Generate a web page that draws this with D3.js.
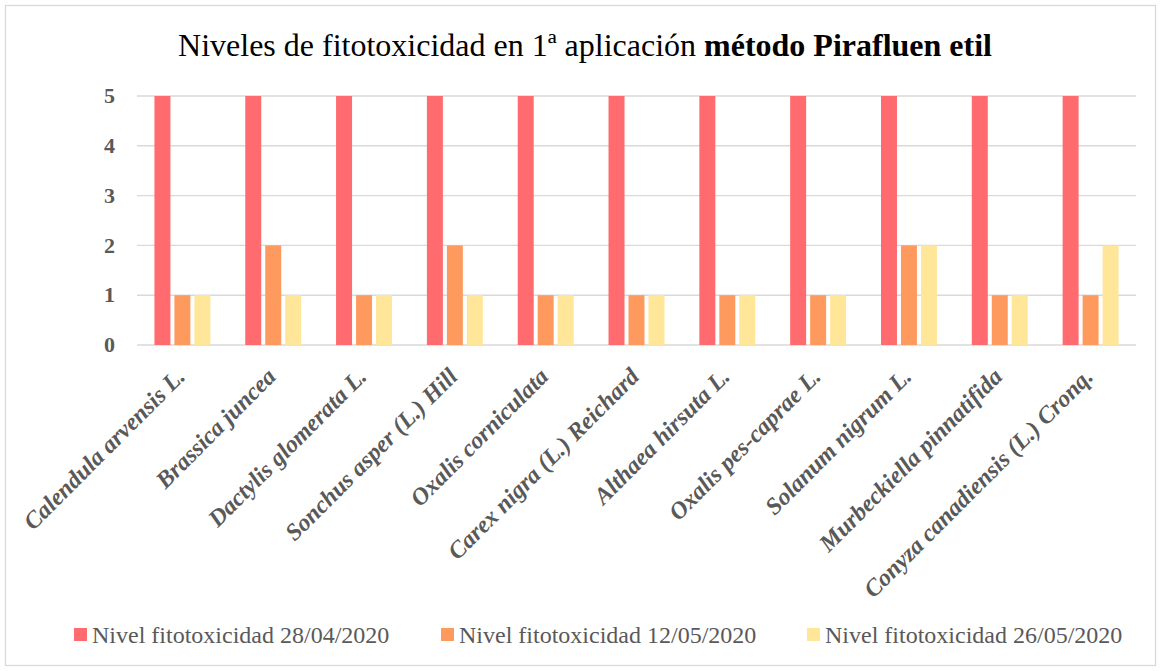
<!DOCTYPE html>
<html>
<head>
<meta charset="utf-8">
<script src="https://cdn.jsdelivr.net/npm/d3@7"></script>
<style>
  body { margin: 0; background: #fff; }
  svg text { font-family: "Liberation Serif", "Times New Roman", Times, serif; }
  .tick-y { font-weight: bold; font-size: 22px; fill: #595959; }
  .tick-x { font-weight: bold; font-style: italic; font-size: 24px; fill: #595959; }
  .legend-text { font-size: 24px; fill: #595959; }
  .title { font-size: 32px; fill: #000; }
</style>
</head>
<body>
<div id="chart"></div>
<script>
// data
const species = [
  'Calendula arvensis L.', 'Brassica juncea', 'Dactylis glomerata L.', 'Sonchus asper (L.) Hill',
  'Oxalis corniculata', 'Carex nigra (L.) Reichard', 'Althaea hirsuta L.', 'Oxalis pes-caprae L.',
  'Solanum nigrum L.', 'Murbeckiella pinnatifida', 'Conyza canadiensis (L.) Cronq.'
];
const seriesNames = ['Nivel fitotoxicidad 28/04/2020', 'Nivel fitotoxicidad 12/05/2020', 'Nivel fitotoxicidad 26/05/2020'];
const nivel_28_04 = [5, 5, 5, 5, 5, 5, 5, 5, 5, 5, 5];
const nivel_12_05 = [1, 2, 1, 2, 1, 1, 1, 1, 2, 1, 1];
const nivel_26_05 = [1, 1, 1, 1, 1, 1, 1, 1, 2, 1, 2];
const yTicks = [0, 1, 2, 3, 4, 5];
const colors = ['#ff6b6f', '#ff9a5f', '#ffe699'];

const allSeries = [nivel_28_04, nivel_12_05, nivel_26_05];

// chart static params
const W = 1161, H = 671;
const margin = {top: 96, right: 25, bottom: 326, left: 137};
const plotW = 1136 - margin.left, plotH = 345 - margin.top;

const svg = d3.select('#chart').append('svg')
    .attr('width', W)
    .attr('height', H);

// outer frame
svg.append('rect')
    .attr('x', 5.5).attr('y', 5.5)
    .attr('width', W - 11).attr('height', H - 11)
    .attr('fill', '#fff')
    .attr('stroke', '#d9d9d9')
    .attr('stroke-width', 1.3);

// title
const title = svg.append('text')
    .attr('class', 'title')
    .attr('x', 585)
    .attr('y', 56)
    .attr('text-anchor', 'middle');
title.append('tspan').text('Niveles de fitotoxicidad en 1ª aplicación ');
title.append('tspan').attr('font-weight', 'bold').text('método Pirafluen etil');

const g = svg.append('g')
    .attr('transform', `translate(${margin.left},${margin.top})`);

// scales
const x = d3.scaleBand()
    .domain(species)
    .range([0, plotW])
    .paddingInner(0.384)
    .paddingOuter(0.192);

const xInner = d3.scaleBand()
    .domain(d3.range(allSeries.length))
    .range([0, x.bandwidth()])
    .paddingInner(0.2);

const y = d3.scaleLinear()
    .domain([0, 5])
    .range([plotH, 0]);

// grid
g.append('g')
  .selectAll('line')
  .data(yTicks)
  .join('line')
    .attr('x1', 0).attr('x2', plotW)
    .attr('y1', d => y(d)).attr('y2', d => y(d))
    .attr('stroke', '#d9d9d9')
    .attr('stroke-width', 1.4);

// y axis labels
g.append('g')
  .selectAll('text')
  .data(yTicks)
  .join('text')
    .attr('class', 'tick-y')
    .attr('x', -22)
    .attr('y', d => y(d))
    .attr('dy', '0.33em')
    .attr('text-anchor', 'end')
    .text(d => d);

// bars
allSeries.forEach((vals, si) => {
  g.append('g')
    .selectAll('rect')
    .data(vals)
    .join('rect')
      .attr('x', (d, i) => x(species[i]) + xInner(si))
      .attr('y', d => y(d))
      .attr('width', xInner.bandwidth())
      .attr('height', d => plotH - y(d))
      .attr('fill', colors[si]);
});

// x axis labels, rotated
g.append('g')
  .selectAll('text')
  .data(species)
  .join('text')
    .attr('class', 'tick-x')
    .attr('text-anchor', 'end')
    .attr('transform', d => `translate(${x(d) + x.bandwidth() / 2 + 4},${plotH + 33}) rotate(-45)`)
    .text(d => d);

// legend
const legendX = [74, 441, 807];
const legend = svg.append('g')
  .selectAll('g')
  .data(seriesNames)
  .join('g')
    .attr('transform', (d, i) => `translate(${legendX[i]},635)`);

legend.append('rect')
    .attr('x', 0).attr('y', -7)
    .attr('width', 13).attr('height', 13)
    .attr('fill', (d, i) => colors[i]);

legend.append('text')
    .attr('class', 'legend-text')
    .attr('x', 18)
    .attr('y', 0)
    .attr('dy', '0.33em')
    .text(d => d);
</script>
</body>
</html>
